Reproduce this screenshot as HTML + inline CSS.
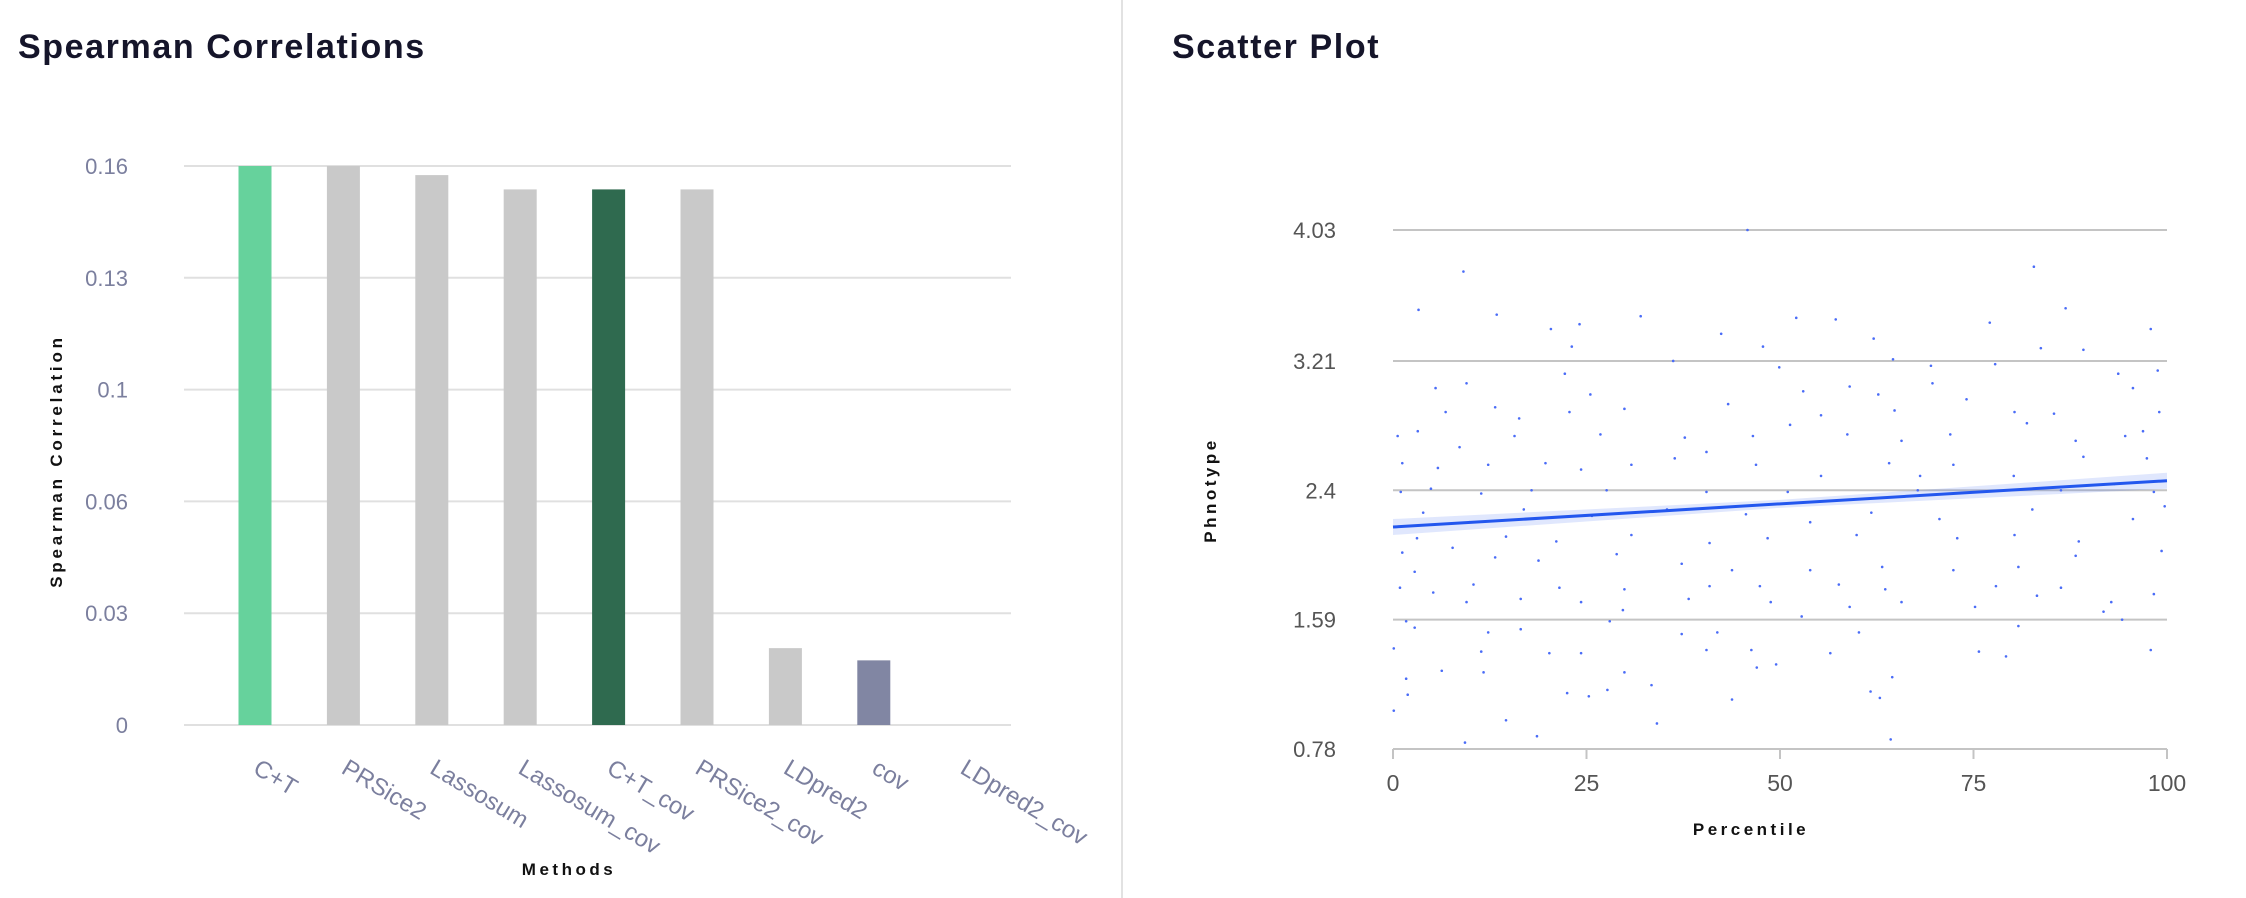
<!DOCTYPE html>
<html><head><meta charset="utf-8">
<style>
html,body{margin:0;padding:0;background:#fff;}
svg{display:block;font-family:"Liberation Sans",sans-serif;}
</style></head>
<body>
<svg id="root" width="2246" height="898" viewBox="0 0 2246 898">
  <line x1="1122" y1="0" x2="1122" y2="898" stroke="#e2e2e2" stroke-width="2"/>
  <text x="18" y="58" font-size="34" font-weight="bold" letter-spacing="1.6" fill="#15152a">Spearman Correlations</text>
  <text x="1172" y="58" font-size="34" font-weight="bold" letter-spacing="1.6" fill="#15152a">Scatter Plot</text>
  <g id="bar"></g>
  <g id="sc"></g>
</svg>
<script>
const NS='http://www.w3.org/2000/svg';
function mk(parent,tag,attrs,txt){const e=document.createElementNS(NS,tag);for(const k in attrs)e.setAttribute(k,attrs[k]);if(txt!==undefined)e.textContent=txt;parent.appendChild(e);return e;}

// ---- Bar chart data ----
const methods=['C+T','PRSice2','Lassosum','Lassosum_cov','C+T_cov','PRSice2_cov','LDpred2','cov','LDpred2_cov'];
const corrValues=[0.16,0.16,0.1574,0.1533,0.1533,0.1533,0.022,0.0185,0];
const barColors=['#66d29c','#c9c9c9','#c9c9c9','#c9c9c9','#2f6a4f','#c9c9c9','#c9c9c9','#8186a3','#c9c9c9'];
const barTickValues=[0,0.032,0.064,0.096,0.128,0.16];
const barTickLabels=['0','0.03','0.06','0.1','0.13','0.16'];

// ---- Scatter data ----
const xTicks=[0,25,50,75,100];
const yTicks=[0.78,1.59,2.4,3.21,4.03];
const yTickLabels=['0.78','1.59','2.4','3.21','4.03'];
const ptPct=[9.1,82.8,3.3,13.4,32.0,20.4,24.1,52.1,57.2,77.1,86.9,97.9,42.4,47.8,62.1,83.7,89.2,23.1,36.2,64.6,69.5,77.8,9.5,5.5,22.2,49.9,93.7,98.8,25.5,69.7,53.0,59.0,62.7,95.6,6.8,13.2,16.3,22.8,29.9,43.3,55.3,64.8,74.1,80.3,85.4,99.0,0.6,3.2,8.6,15.7,26.8,37.7,46.5,51.3,58.7,65.7,72.0,81.9,88.2,94.6,96.9,1.2,5.8,12.3,19.7,24.3,30.8,36.4,40.5,46.9,55.3,64.1,68.1,72.4,80.2,89.2,97.4,1.0,4.9,11.4,17.9,27.6,40.5,51.0,67.8,86.3,93.2,98.3,3.9,9.9,16.9,25.7,35.4,45.6,53.9,61.8,70.6,82.6,95.6,99.7,3.1,7.7,14.6,21.1,30.8,40.9,48.4,59.9,72.9,80.3,88.6,1.2,13.2,18.8,28.9,37.3,43.8,53.9,63.2,72.4,80.8,88.2,99.3,2.8,10.4,21.5,29.9,40.9,47.4,57.6,63.6,77.9,86.3,98.3,0.9,5.2,16.5,24.3,38.2,48.8,65.7,83.2,92.8,9.5,29.7,59.0,75.2,91.8,1.7,2.8,12.3,16.5,28.0,37.3,41.9,52.8,60.2,80.8,94.2,0.1,11.4,20.2,24.3,40.5,46.3,56.5,75.7,79.2,97.9,6.3,11.7,47.0,49.5,29.9,1.7,33.4,64.5,1.9,22.5,25.3,27.7,43.8,61.7,62.9,0.1,14.6,34.1,18.6,9.3,64.3,45.8];
const ptVal=[3.77,3.80,3.53,3.50,3.49,3.41,3.44,3.48,3.47,3.45,3.54,3.41,3.38,3.30,3.35,3.29,3.28,3.30,3.21,3.22,3.18,3.19,3.07,3.04,3.13,3.17,3.13,3.15,3.00,3.07,3.02,3.05,3.00,3.04,2.89,2.92,2.85,2.89,2.91,2.94,2.87,2.90,2.97,2.89,2.88,2.89,2.74,2.77,2.67,2.74,2.75,2.73,2.74,2.81,2.75,2.71,2.75,2.82,2.71,2.74,2.77,2.57,2.54,2.56,2.57,2.53,2.56,2.60,2.64,2.56,2.49,2.57,2.49,2.56,2.49,2.61,2.60,2.39,2.41,2.38,2.40,2.40,2.39,2.39,2.40,2.40,2.44,2.39,2.26,2.20,2.28,2.24,2.28,2.25,2.20,2.26,2.22,2.28,2.22,2.30,2.10,2.04,2.11,2.08,2.12,2.07,2.10,2.12,2.10,2.12,2.08,2.01,1.98,1.96,2.00,1.94,1.90,1.90,1.92,1.90,1.92,1.99,2.02,1.89,1.81,1.79,1.78,1.80,1.80,1.81,1.78,1.80,1.79,1.75,1.79,1.76,1.72,1.70,1.72,1.70,1.70,1.74,1.70,1.70,1.65,1.67,1.67,1.64,1.58,1.54,1.51,1.53,1.58,1.50,1.51,1.61,1.51,1.55,1.59,1.41,1.39,1.38,1.38,1.40,1.40,1.38,1.39,1.36,1.40,1.27,1.26,1.29,1.31,1.26,1.22,1.18,1.23,1.12,1.13,1.11,1.15,1.09,1.14,1.10,1.02,0.96,0.94,0.86,0.82,0.84,4.03];
const fitPct=[0,100];
const fitVal=[2.17,2.46];
const ciPct=[0,50,100];
const ciLow=[2.12,2.29,2.41];
const ciHigh=[2.22,2.34,2.51];

// ---- Bar chart ----
(function(){
  const g=document.getElementById('bar');
  const L=184,R=1011,T=166,B=725,maxV=0.16;
  const y=v=>B-(v/maxV)*(B-T);
  const cx=i=>255+i*88.4;
  barTickValues.forEach((v,i)=>{
    const ln=mk(g,'line',{x1:L,x2:R,y1:y(v),y2:y(v),stroke:'#e0e0e0','stroke-width':2});
    
    
    const t=mk(g,'text',{x:128,y:y(v)+8,'text-anchor':'end','font-size':22,fill:'#7b7f9e'},barTickLabels[i]);
    
    
  });
  methods.forEach((m,i)=>{
    const v=corrValues[i];
    if(v>0){
      const r=mk(g,'rect',{x:cx(i)-16.5,y:y(v),width:33,height:B-y(v),fill:barColors[i]});
      
      
    }
    const tx=cx(i)+6;
    const t=mk(g,'text',{x:tx,y:775,'font-size':24,fill:'#7b7f9e',transform:`rotate(31 ${tx} 757)`},m);
    
    
  });
  const yl=mk(g,'text',{x:0,y:0,'font-size':17,'font-weight':'bold','letter-spacing':3.8,fill:'#111','text-anchor':'middle',transform:'translate(62 461) rotate(-90)'},'Spearman Correlation');
  
  
  const xl=mk(g,'text',{x:569,y:875,'font-size':17,'font-weight':'bold','letter-spacing':3.5,fill:'#111','text-anchor':'middle'},'Methods');
  
  
})();

// ---- Scatter ----
(function(){
  const g=document.getElementById('sc');
  const L=1393,R=2167,T=230,B=749;
  const x=p=>L+(p-xTicks[0])/(xTicks[xTicks.length-1]-xTicks[0])*(R-L);
  const y=v=>B-(v-yTicks[0])/(yTicks[yTicks.length-1]-yTicks[0])*(B-T);
  yTicks.forEach((v,i)=>{
    if(i>0){
      const ln=mk(g,'line',{x1:L,x2:R,y1:y(v),y2:y(v),stroke:'#c4c4c4','stroke-width':2});
      
      
    }
    const t=mk(g,'text',{x:1336,y:y(v)+8,'text-anchor':'end','font-size':22,fill:'#555'},yTickLabels[i]);
    
    
  });
  const ax=mk(g,'line',{x1:L,x2:R,y1:B,y2:B,stroke:'#c4c4c4','stroke-width':2});
  
  
  xTicks.forEach(p=>{
    const tk=mk(g,'line',{x1:x(p),x2:x(p),y1:B,y2:B+10,stroke:'#c4c4c4','stroke-width':2});
    
    
    const t=mk(g,'text',{x:x(p),y:791,'text-anchor':'middle','font-size':23,fill:'#555'},String(p));
    
    
  });
  let d='';
  ciPct.forEach((p,i)=>{d+=(i?'L':'M')+x(p)+' '+y(ciHigh[i]);});
  for(let i=ciPct.length-1;i>=0;i--){d+='L'+x(ciPct[i])+' '+y(ciLow[i]);}
  const band=mk(g,'path',{d:d+'Z',fill:'#2f5cf0','fill-opacity':0.15});
  
  
  ptPct.forEach((p,i)=>{
    const c=mk(g,'circle',{cx:x(p),cy:y(ptVal[i]),r:1.3,fill:'#4a6cf7'});
    
    
  });
  const fl=mk(g,'line',{x1:x(fitPct[0]),y1:y(fitVal[0]),x2:x(fitPct[1]),y2:y(fitVal[1]),stroke:'#2357ee','stroke-width':3});
  
  
  const yl=mk(g,'text',{x:0,y:0,'font-size':17,'font-weight':'bold','letter-spacing':3.5,fill:'#111','text-anchor':'middle',transform:'translate(1216 490) rotate(-90)'},'Phnotype');
  
  
  const xl=mk(g,'text',{x:1751,y:835,'font-size':17,'font-weight':'bold','letter-spacing':3.5,fill:'#111','text-anchor':'middle'},'Percentile');
  
  
})();
</script>
</body></html>
